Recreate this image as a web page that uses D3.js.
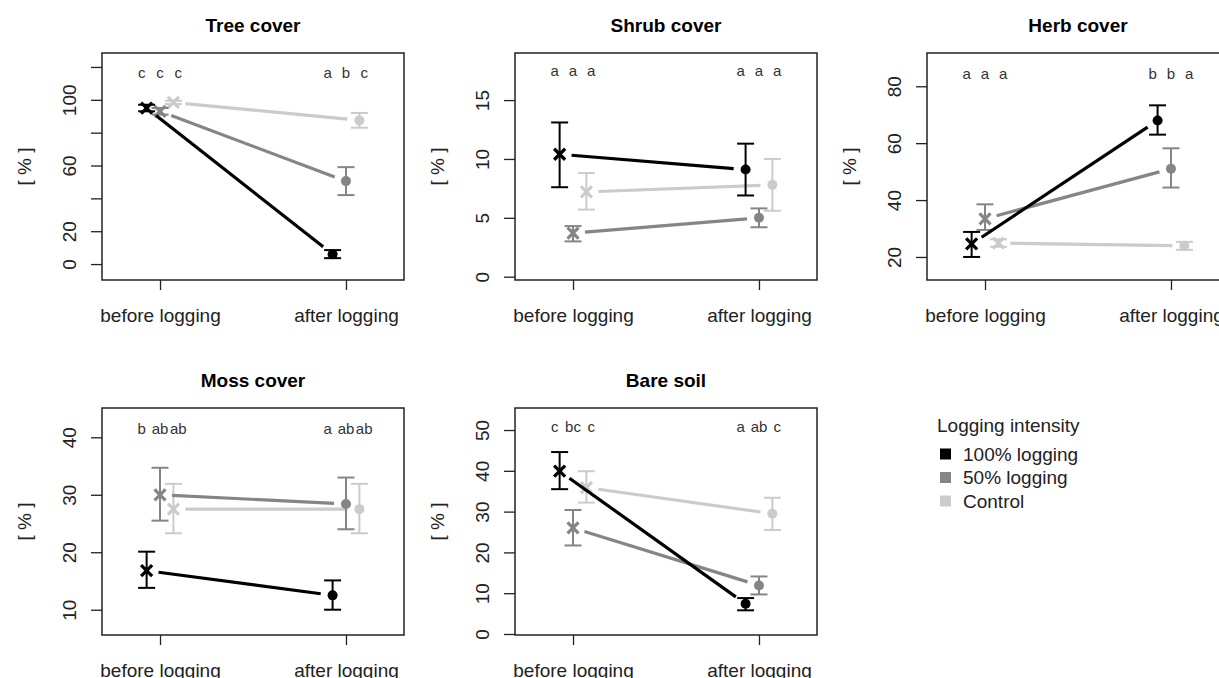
<!DOCTYPE html>
<html lang="en">
<head>
<meta charset="UTF-8">
<title>Vegetation cover before and after logging</title>
<script src="https://d3js.org/d3.v7.min.js"></script>
<style>
  body { margin: 0; background: #fff; }
  svg { display: block; font-family: "Liberation Sans", Arial, sans-serif; }
</style>
</head>
<body>
<div id="chart"></div>
<script>
// categories
const periods = ["before logging", "after logging"];
const treatments = ["100% logging", "50% logging", "Control"];

// values per panel: rows = treatment (100%, 50%, control), cols = period (before, after)
const treeMean  = [[95, 6], [93, 50.5], [98.4, 87.5]];
const treeLower = [[93, 3.6], [91, 42], [97.4, 83]];
const treeUpper = [[97, 8.5], [95, 59], [99.4, 92]];
const treeLetters = [["c", "c", "c"], ["a", "b", "c"]];
const treeTicks = [0, 20, 40, 60, 80, 100, 120];
const treeTickLabels = ["0", "20", "", "60", "", "100", ""];

const shrubMean  = [[10.4, 9.1], [3.7, 5.0], [7.2, 7.8]];
const shrubLower = [[7.6, 6.9], [3.0, 4.2], [5.7, 5.6]];
const shrubUpper = [[13.1, 11.3], [4.3, 5.8], [8.8, 10.0]];
const shrubLetters = [["a", "a", "a"], ["a", "a", "a"]];
const shrubTicks = [0, 5, 10, 15];
const shrubTickLabels = ["0", "5", "10", "15"];

const herbMean  = [[24.6, 68], [33.4, 51], [24.9, 23.9]];
const herbLower = [[20, 63], [29.5, 44.4], [23.6, 22.5]];
const herbUpper = [[28.8, 73.3], [38.5, 58.2], [26.2, 25.3]];
const herbLetters = [["a", "a", "a"], ["b", "b", "a"]];
const herbTicks = [20, 40, 60, 80];
const herbTickLabels = ["20", "40", "60", "80"];

const mossMean  = [[16.8, 12.5], [30, 28.4], [27.5, 27.5]];
const mossLower = [[13.8, 10], [25.5, 24], [23.3, 23.3]];
const mossUpper = [[20.1, 15.1], [34.7, 33], [31.9, 31.9]];
const mossLetters = [["b", "ab", "ab"], ["a", "ab", "ab"]];
const mossTicks = [10, 20, 30, 40];
const mossTickLabels = ["10", "20", "30", "40"];

const soilMean  = [[39.9, 7.4], [26, 11.9], [35.9, 29.5]];
const soilLower = [[35.5, 5.8], [21.7, 9.7], [32.2, 25.5]];
const soilUpper = [[44.6, 8.8], [30.4, 14.1], [39.9, 33.4]];
const soilLetters = [["c", "bc", "c"], ["a", "ab", "c"]];
const soilTicks = [0, 10, 20, 30, 40, 50];
const soilTickLabels = ["0", "10", "20", "30", "40", "50"];

const colors = ["#000000", "#858585", "#cbcbcb"];

const panels = [
  { title: "Tree cover",  col: 0, row: 0, ylim: [-9.7, 128.5], letterY: 116, mean: treeMean, lo: treeLower, hi: treeUpper, letters: treeLetters, ticks: treeTicks, tickLabels: treeTickLabels },
  { title: "Shrub cover", col: 1, row: 0, ylim: [-0.28, 19.0], letterY: 17.4, mean: shrubMean, lo: shrubLower, hi: shrubUpper, letters: shrubLetters, ticks: shrubTicks, tickLabels: shrubTickLabels },
  { title: "Herb cover",  col: 2, row: 0, ylim: [11.9, 91.7], letterY: 84.2, mean: herbMean, lo: herbLower, hi: herbUpper, letters: herbLetters, ticks: herbTicks, tickLabels: herbTickLabels },
  { title: "Moss cover",  col: 0, row: 1, ylim: [5.6, 45.1], letterY: 41.3, mean: mossMean, lo: mossLower, hi: mossUpper, letters: mossLetters, ticks: mossTicks, tickLabels: mossTickLabels },
  { title: "Bare soil",   col: 1, row: 1, ylim: [-0.25, 55.4], letterY: 50.6, mean: soilMean, lo: soilLower, hi: soilUpper, letters: soilLetters, ticks: soilTicks, tickLabels: soilTickLabels }
];

const width = 1219, height = 678;
const colLeft = [102, 515, 927];
const rowTop = [53, 408];
const boxW = 302, boxH = 227;
const offset = [-0.072, 0, 0.072];     // horizontal dodge per treatment
const letterOffset = [-0.098, 0, 0.098];

const svg = d3.select("#chart").append("svg")
  .attr("width", width)
  .attr("height", height);

panels.forEach(p => {
  const g = svg.append("g")
    .attr("transform", `translate(${colLeft[p.col]}, ${rowTop[p.row]})`);

  const x = d3.scaleLinear().domain([0.688, 2.312]).range([0, boxW]);
  const y = d3.scaleLinear().domain(p.ylim).range([boxH, 0]);

  // title
  g.append("text")
    .attr("x", boxW / 2)
    .attr("y", -21)
    .attr("text-anchor", "middle")
    .style("font-size", "19px")
    .style("font-weight", "bold")
    .text(p.title);

  // y axis
  const yAxis = g.append("g")
    .call(d3.axisLeft(y).tickValues(p.ticks).tickSize(11).tickSizeOuter(0)
      .tickFormat((d, i) => p.tickLabels[i]));
  yAxis.select(".domain").remove();
  yAxis.selectAll("line").attr("stroke", "#222").attr("stroke-width", 1.3);
  yAxis.selectAll("text")
    .attr("x", 0).attr("dy", 0)
    .attr("transform", "translate(-26,0) rotate(-90)")
    .attr("text-anchor", "middle")
    .attr("fill", "#222")
    .style("font-size", "19px")
    .style("font-family", "Liberation Sans, Arial, sans-serif");

  g.append("text")
    .attr("transform", `translate(-71, ${boxH / 2}) rotate(-90)`)
    .attr("text-anchor", "middle")
    .attr("fill", "#222")
    .style("font-size", "19px")
    .text("[ % ]");

  // x axis
  const xAxis = g.append("g")
    .attr("transform", `translate(0, ${boxH})`)
    .call(d3.axisBottom(x).tickValues([1, 2]).tickSize(10).tickSizeOuter(0)
      .tickFormat((d, i) => periods[i]));
  xAxis.select(".domain").remove();
  xAxis.selectAll("line").attr("stroke", "#222").attr("stroke-width", 1.3);
  xAxis.selectAll("text")
    .attr("y", 0).attr("dy", 0)
    .attr("transform", "translate(0,42)")
    .attr("fill", "#222")
    .style("font-size", "19px")
    .style("font-family", "Liberation Sans, Arial, sans-serif");

  // box
  g.append("rect")
    .attr("width", boxW).attr("height", boxH)
    .attr("fill", "none")
    .attr("stroke", "#222")
    .attr("stroke-width", 1.5);

  // significance letters
  p.letters.forEach((set, k) => {
    set.forEach((l, t) => {
      g.append("text")
        .attr("x", x(k + 1 + letterOffset[t]))
        .attr("y", y(p.letterY))
        .attr("dy", "0.28em")
        .attr("text-anchor", "middle")
        .attr("fill", "#333")
        .style("font-size", "15px")
        .text(l);
    });
  });

  // series, control drawn first so 100% logging ends on top
  [2, 1, 0].forEach(t => {
    const c = colors[t];
    const pts = [0, 1].map(k => ({
      x: x(k + 1 + offset[t]),
      y: y(p.mean[t][k]),
      lo: y(p.lo[t][k]),
      hi: y(p.hi[t][k])
    }));

    // connecting line, trimmed near the points
    const dx = pts[1].x - pts[0].x, dy = pts[1].y - pts[0].y;
    const len = Math.sqrt(dx * dx + dy * dy);
    const gap = 12;
    g.append("line")
      .attr("x1", pts[0].x + dx / len * gap)
      .attr("y1", pts[0].y + dy / len * gap)
      .attr("x2", pts[1].x - dx / len * gap)
      .attr("y2", pts[1].y - dy / len * gap)
      .attr("stroke", c)
      .attr("stroke-width", 3.2);

    // error bars
    pts.forEach(d => {
      const eb = g.append("g").attr("stroke", c).attr("stroke-width", 2);
      eb.append("line").attr("x1", d.x).attr("x2", d.x).attr("y1", d.lo).attr("y2", d.hi);
      eb.append("line").attr("x1", d.x - 8.5).attr("x2", d.x + 8.5).attr("y1", d.lo).attr("y2", d.lo);
      eb.append("line").attr("x1", d.x - 8.5).attr("x2", d.x + 8.5).attr("y1", d.hi).attr("y2", d.hi);
    });

    // before: cross marker
    const s = 5.5, b = pts[0];
    g.append("path")
      .attr("d", `M${b.x - s},${b.y - s}L${b.x + s},${b.y + s}M${b.x - s},${b.y + s}L${b.x + s},${b.y - s}`)
      .attr("stroke", c)
      .attr("stroke-width", 3.2);

    // after: filled dot
    g.append("circle")
      .attr("cx", pts[1].x).attr("cy", pts[1].y)
      .attr("r", 5)
      .attr("fill", c);
  });
});

// legend
const legend = svg.append("g").attr("transform", "translate(937, 432)");
legend.append("text")
  .attr("fill", "#222")
  .style("font-size", "19px")
  .text("Logging intensity");
treatments.forEach((name, i) => {
  const cy = 22 + i * 23.5;
  legend.append("rect")
    .attr("x", 3).attr("y", cy - 5.5)
    .attr("width", 11).attr("height", 11)
    .attr("fill", colors[i]);
  legend.append("text")
    .attr("x", 26).attr("y", cy)
    .attr("dy", "0.36em")
    .attr("fill", "#222")
    .style("font-size", "19px")
    .text(name);
});
</script>
</body>
</html>
